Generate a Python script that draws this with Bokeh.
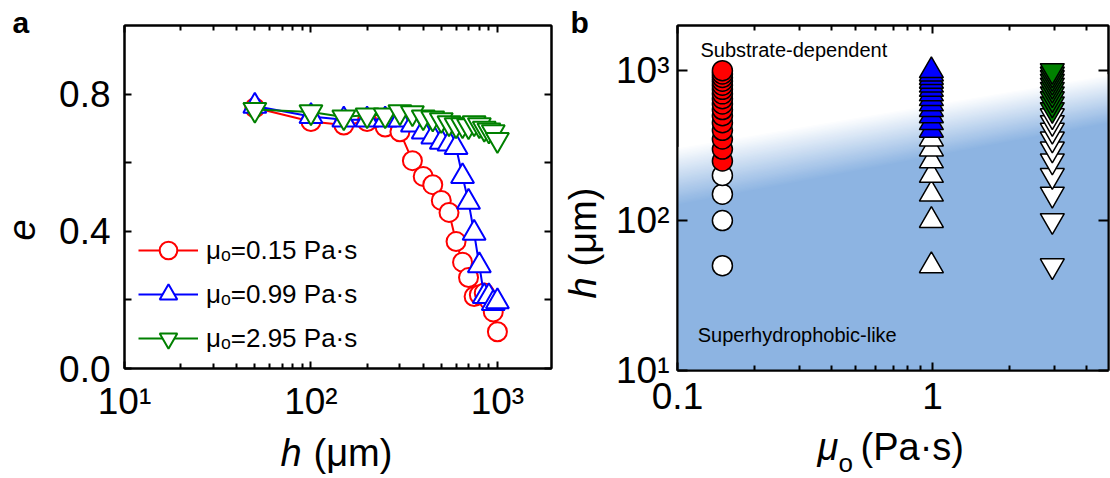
import math
from bokeh.plotting import figure
from bokeh.models import (Range1d, LogAxis, LinearAxis, FixedTicker, Label,
                          Legend, LegendItem, ColumnDataSource, CustomJSTickFormatter)
from bokeh.layouts import row, column
from bokeh.embed import file_html
from bokeh.resources import INLINE

FONT = "Liberation Sans"

# ---------------- data ----------------
h_um = [50, 100, 150, 200, 250, 300, 350, 400, 450, 500,
        550, 600, 650, 700, 750, 800, 850, 900, 950, 1000]
e_mu015 = [0.76, 0.72, 0.71, 0.72, 0.704, 0.69, 0.606, 0.56, 0.536, 0.49,
           0.455, 0.37, 0.31, 0.265, 0.21, 0.215, 0.22, 0.20, 0.165, 0.107]
e_mu099 = [0.765, 0.735, 0.725, 0.725, 0.725, 0.725, 0.71, 0.69, 0.675, 0.66,
           0.655, 0.645, 0.56, 0.485, 0.395, 0.30, 0.21, 0.21, 0.19, 0.195]
e_mu295 = [0.755, 0.748, 0.733, 0.739, 0.739, 0.748, 0.745, 0.733, 0.73, 0.725,
           0.716, 0.71, 0.71, 0.707, 0.716, 0.71, 0.70, 0.695, 0.69, 0.667]
series_labels = ["μₒ=0.15 Pa·s", "μₒ=0.99 Pa·s", "μₒ=2.95 Pa·s"]
series_colors = ["#FF0000", "#0000FF", "#008000"]

viscosity = [0.15, 0.99, 2.95]          # Pa·s
onset_h = [250, 400, 550]               # first substrate-dependent h for each viscosity
# regime boundary (soft edge) in panel b
boundary_mu = [0.1, 4.9]
boundary_h_blue = [128, 450]
boundary_h_white = [310, 950]

a_xticks = [10, 100, 1000]
a_xminor = [20, 30, 40, 50, 60, 70, 80, 90, 200, 300, 400, 500, 600, 700, 800, 900]
a_yticks = [0.0, 0.4, 0.8]
a_yminor = [0.2, 0.6]
b_xticks = [0.1, 1]
b_xminor = [0.2, 0.3, 0.4, 0.5, 0.6, 0.7, 0.8, 0.9, 2, 3, 4]
b_yticks = [10, 100, 1000]

SUP_CODE = """
const sup = {"0":"⁰","1":"¹","2":"²","3":"³","4":"⁴"};
const e = Math.round(Math.log10(tick));
return "10" + (sup[String(e)] || "");
"""

ROW_H = 424
BOT_BORDER = 54


def style_axis(ax, tick_in=7, minor_in=4, labels=True, size="37px", standoff=14):
    ax.axis_line_color = "black"
    ax.axis_line_width = 2
    ax.major_tick_line_color = "black"
    ax.minor_tick_line_color = "black"
    ax.major_tick_line_width = 2
    ax.minor_tick_line_width = 2
    ax.major_tick_in = tick_in
    ax.major_tick_out = 0
    ax.minor_tick_in = minor_in
    ax.minor_tick_out = 0
    ax.major_label_text_font = FONT
    ax.major_label_text_color = "black"
    ax.major_label_text_font_size = size
    ax.axis_label = None
    if labels:
        ax.major_label_standoff = standoff
    else:
        ax.formatter = CustomJSTickFormatter(code="return '';")
        ax.major_label_standoff = 0


def strip(width, height):
    s = figure(width=width, height=height, x_range=Range1d(0, 1), y_range=Range1d(0, 1),
               x_axis_location=None, y_axis_location=None, title=None,
               output_backend="svg", toolbar_location=None,
               min_border=0, min_border_left=0, min_border_right=0,
               min_border_top=0, min_border_bottom=0)
    s.outline_line_color = None
    s.grid.visible = False
    return s


def lab(p, text, x, y, size=38, style="normal", angle=0.0):
    # the renderer puts the alphabetic baseline about 0.38 em below the anchor;
    # shift the anchor so that (x, y) is the true baseline start
    shift = 0.38 * size
    if angle:
        x -= shift
    else:
        y += shift
    p.add_layout(Label(x=x, y=y, x_units="screen", y_units="screen", text=text,
                       text_font=FONT, text_font_size=f"{size}px", text_font_style=style,
                       text_align="left", text_baseline="alphabetic", angle=angle,
                       text_color="black"))


# ---------------- panel a ----------------
pa = figure(width=518, height=ROW_H, x_axis_type="log", title=None,
            x_range=Range1d(10, 1950), y_range=Range1d(0, 1.0),
            output_backend="svg", toolbar_location=None,
            min_border_left=82, min_border_right=9, min_border_top=25,
            min_border_bottom=BOT_BORDER)
pa.grid.visible = False
pa.outline_line_color = "black"
pa.outline_line_width = 2

pa.xaxis.ticker = FixedTicker(ticks=a_xticks, minor_ticks=a_xminor)
pa.xaxis.formatter = CustomJSTickFormatter(code=SUP_CODE)
style_axis(pa.xaxis[0], tick_in=7, minor_in=5, standoff=12)
pa.yaxis.ticker = FixedTicker(ticks=a_yticks, minor_ticks=a_yminor)
pa.yaxis.formatter = CustomJSTickFormatter(code="return tick.toFixed(1);")
style_axis(pa.yaxis[0], tick_in=7, minor_in=7, standoff=14)

top_a = LogAxis(ticker=FixedTicker(ticks=a_xticks, minor_ticks=a_xminor))
style_axis(top_a, tick_in=7, minor_in=5, labels=False)
pa.add_layout(top_a, "above")
right_a = LinearAxis(ticker=FixedTicker(ticks=a_yticks, minor_ticks=a_yminor))
style_axis(right_a, tick_in=7, minor_in=7, labels=False)
pa.add_layout(right_a, "right")

items = []
for e_vals, lbl, col, marker, msize in zip(
        [e_mu015, e_mu099, e_mu295], series_labels, series_colors,
        ["circle", "triangle", "inverted_triangle"], [19, 23, 23]):
    src = ColumnDataSource(dict(h=h_um, e=e_vals))
    lr = pa.line("h", "e", source=src, line_color=col, line_width=2)
    sr = pa.scatter("h", "e", source=src, marker=marker, size=msize,
                    fill_color="white", line_color=col, line_width=2)
    items.append(LegendItem(label=lbl, renderers=[lr, sr]))

legend = Legend(items=items, location=(14, 8))
legend.glyph_width = 60
legend.glyph_height = 44
legend.label_height = 44
legend.spacing = 0
legend.padding = 0
legend.margin = 0
legend.label_standoff = 8
legend.background_fill_alpha = 0
legend.border_line_alpha = 0
legend.label_text_font = FONT
legend.label_text_font_size = "26px"
legend.label_text_color = "black"
pa.add_layout(legend)

# ---------------- panel b ----------------
pb = figure(width=504, height=ROW_H, x_axis_type="log", y_axis_type="log", title=None,
            x_range=Range1d(0.1, 4.9), y_range=Range1d(10, 2000),
            output_backend="svg", toolbar_location=None,
            min_border_left=71, min_border_right=2, min_border_top=25,
            min_border_bottom=BOT_BORDER)
pb.grid.visible = False
pb.outline_line_color = "black"
pb.outline_line_width = 2

pb.xaxis.ticker = FixedTicker(ticks=b_xticks, minor_ticks=b_xminor)
pb.xaxis.formatter = CustomJSTickFormatter(code="return tick >= 1 ? tick.toFixed(0) : tick.toFixed(1);")
style_axis(pb.xaxis[0], tick_in=8, minor_in=5, standoff=12)
pb.yaxis.ticker = FixedTicker(ticks=b_yticks, minor_ticks=[])
pb.yaxis.formatter = CustomJSTickFormatter(code=SUP_CODE)
style_axis(pb.yaxis[0], tick_in=10, minor_in=0, standoff=8)

top_b = LogAxis(ticker=FixedTicker(ticks=b_xticks, minor_ticks=b_xminor))
style_axis(top_b, tick_in=8, minor_in=5, labels=False)
pb.add_layout(top_b, "above")
right_b = LogAxis(ticker=FixedTicker(ticks=b_yticks, minor_ticks=[]))
style_axis(right_b, tick_in=10, minor_in=0, labels=False)
pb.add_layout(right_b, "right")

# background: blue superhydrophobic-like regime with a soft edge towards white
blue_rgb = (141, 180, 226)
N = 40
for k in range(N, -1, -1):
    t = k / N
    top = [lo * (hi / lo) ** t for lo, hi in zip(boundary_h_blue, boundary_h_white)]
    c = tuple(int(round(b + (255 - b) * t)) for b in blue_rgb)
    pb.varea(x=boundary_mu, y1=[10, 10], y2=top,
             fill_color="#%02x%02x%02x" % c, fill_alpha=1.0)

markers = ["circle", "triangle", "inverted_triangle"]
msizes = [20, 24, 24]
for mu, onset, col, marker, ms in zip(viscosity, onset_h, series_colors, markers, msizes):
    fills = [col if h >= onset else "white" for h in h_um]
    src = ColumnDataSource(dict(mu=[mu] * len(h_um), h=h_um, fill=fills))
    pb.scatter("mu", "h", source=src, marker=marker, size=ms, fill_color="fill",
               line_color="black", line_width=1.5)

pb.add_layout(Label(x=0.123, y=1380, text="Substrate-dependent", text_font=FONT,
                    text_font_size="20px", text_baseline="alphabetic", text_color="black"))
pb.add_layout(Label(x=0.12, y=17.3, text="Superhydrophobic-like", text_font=FONT,
                    text_font_size="20px", text_baseline="alphabetic", text_color="black"))

# ---------------- text strips (panel letters and axis titles) ----------------
strip_a = strip(42, ROW_H)
lab(strip_a, "a", 12, ROW_H - 33, size=30, style="bold")
lab(strip_a, "e", 35, ROW_H - 240, style="italic", angle=math.pi / 2)

strip_b = strip(46, ROW_H)
lab(strip_b, "b", 10, ROW_H - 33, size=30, style="bold")
lab(strip_b, "h", 37, ROW_H - 298, style="italic", angle=math.pi / 2)
lab(strip_b, "(μm)", 37, ROW_H - 266, angle=math.pi / 2)

BOT_H = 478 - ROW_H
bottom = strip(1110, BOT_H)
lab(bottom, "h", 280, 478 - 467, style="italic")
lab(bottom, "(μm)", 313, 478 - 467)
lab(bottom, "μ", 817, 478 - 461, style="italic")
lab(bottom, "o", 838, 478 - 472, size=26)
lab(bottom, "(Pa·s)", 860, 478 - 461)

# panels wrapped in columns so that the text strips keep their own full-height frames
layout = column(row(strip_a, column(pa), strip_b, column(pb)), bottom)
open("out.html", "w").write(file_html(layout, INLINE))
